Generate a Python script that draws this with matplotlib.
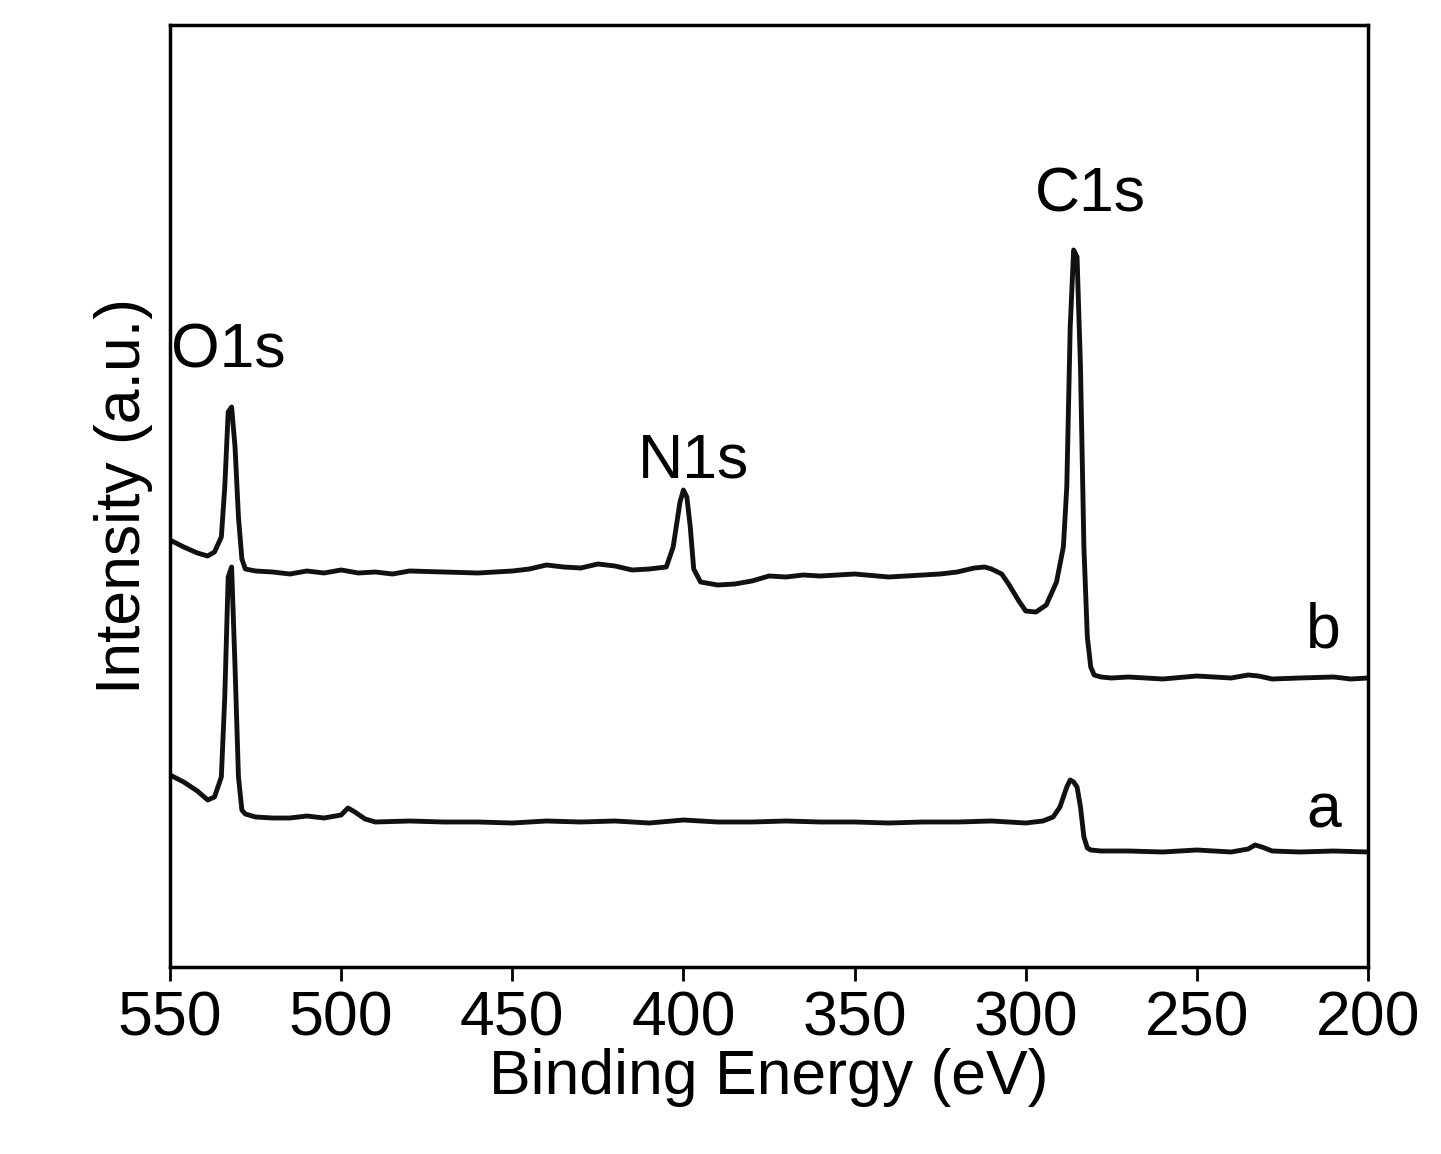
import matplotlib
matplotlib.use("Agg")
import matplotlib.pyplot as plt

# Curve b (upper)
xb = [550,546,542,539,537,535,534,533,532,531,530,529,528,525,520,515,510,505,500,495,490,485,480,470,460,450,445,440,435,430,425,420,415,410,405,403,401,400,399,398,397,395,390,385,380,375,370,365,360,350,340,330,325,320,315,312,310,307,305,302,300,297,294,291,289,288,287,286,285,284,283,282,281,280,278,275,270,260,250,240,235,232,228,220,210,205,200]
yb = [427,420,414,411,415,430,480,555,560,520,450,408,398,396,395,393,396,394,397,394,395,393,396,395,394,396,398,402,400,399,403,401,397,398,400,420,465,477,470,440,398,385,382,383,386,391,390,392,391,393,390,392,393,395,399,400,398,393,383,366,356,355,362,385,420,480,640,717,710,600,420,330,300,292,290,289,290,288,291,289,292,291,288,289,290,288,289]

# Curve a (lower)
xa = [550,546,542,539,537,535,534,533,532,531,530,529,528,525,520,515,510,505,500,498,496,493,490,480,470,460,450,440,430,420,410,400,390,380,370,360,350,340,330,320,310,300,295,292,290,288,287,286,285,284,283,282,281,278,270,260,250,240,235,233,231,228,220,210,200]
ya = [192,185,176,167,170,190,270,390,400,300,190,157,153,150,149,149,151,149,152,159,155,148,145,146,145,145,144,146,145,146,144,147,145,145,146,145,145,144,145,145,146,144,146,150,160,180,187,185,180,160,130,119,117,116,116,115,117,115,118,122,120,116,115,116,115]

plt.rcParams['font.family'] = ['Liberation Sans', 'DejaVu Sans']
fig = plt.figure(figsize=(14.41, 11.54), dpi=100)
ax = fig.add_axes([170/1441, 1-967/1154, 1198/1441, 942/1154])
ax.plot(xb, yb, color='#111111', lw=3.5)
ax.plot(xa, ya, color='#111111', lw=3.5)
ax.set_xlim(550, 200)
ax.set_ylim(0, 942)
ax.set_yticks([])
ax.set_xticks([550,500,450,400,350,300,250,200])
ax.tick_params(axis='x', labelsize=45, length=10, width=2, direction='out', pad=6)
for s in ax.spines.values():
    s.set_linewidth(2.5)
ax.set_xlabel('Binding Energy (eV)', fontsize=45, labelpad=0)
ax.set_ylabel('Intensity (a.u.)', fontsize=45, labelpad=12)
ax.text(533, 600, 'O1s', fontsize=45, ha='center')
ax.text(397, 490, 'N1s', fontsize=45, ha='center')
ax.text(281, 755, 'C1s', fontsize=45, ha='center')
ax.text(213, 320, 'b', fontsize=45, ha='center')
ax.text(213, 140, 'a', fontsize=45, ha='center')
fig.savefig('out.png', dpi=100)
